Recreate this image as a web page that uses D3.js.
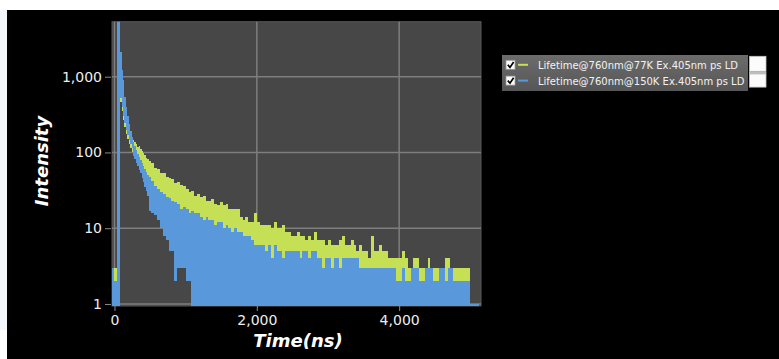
<!DOCTYPE html>
<html>
<head>
<meta charset="utf-8">
<script src="https://cdn.jsdelivr.net/npm/d3@7"></script>
<style>
  html, body { margin: 0; padding: 0; background: #000; overflow: hidden; }
  svg { display: block; }
</style>
</head>
<body>
<svg id="chart" width="779" height="359"></svg>
<script>
// Photon-count decay histograms (TCSPC). Bins are 40 ns wide, except around the
// fast initial decay (80-480 ns) where they are 20 ns wide.
// For each bin the highest and lowest recorded counts are kept.
const binSegments = [
  { startNs: -40, widthNs: 40, count: 3 },
  { startNs: 80, widthNs: 20, count: 20 },
  { startNs: 480, widthNs: 40, count: 116 }
];

const seriesNames = [
  "Lifetime@760nm@77K Ex.405nm ps LD",
  "Lifetime@760nm@150K Ex.405nm ps LD"
];

// 77 K trace: max / min counts per bin
const max77 = [
  3, 3, 900,
  800, 700, 520, 400, 320, 260, 210, 180, 160, 146,
  138, 130, 119, 121, 112, 106, 98, 92, 84, 82,
  77, 72, 62, 60, 53, 54, 47,
  46, 45, 40, 41, 37, 36, 33, 30, 31, 27,
  28, 26, 27, 23, 23, 24, 21, 20, 22, 20,
  21, 18, 18, 18, 18, 14, 13, 14, 12, 12,
  16, 12, 11, 11, 11, 11, 10, 12, 10, 10,
  11, 9, 9, 8, 8, 9, 8, 8, 7, 8,
  7, 9, 7, 7, 7, 6, 7, 6, 6, 6,
  7, 8, 6, 6, 7, 6, 5, 6, 5, 5,
  4, 8, 5, 5, 6, 5, 5, 4, 4, 4,
  4, 4, 5, 4, 3, 3, 4, 4, 3, 3,
  3, 4, 3, 3, 3, 3, 3, 4, 4, 3,
  3, 3, 3, 3, 3, 3, 1, 1, 1
];
const min77 = [
  2, 2, 0,
  463, 352, 268, 217, 175, 151, 129, 115, 101, 99,
  90, 80, 73, 65, 59, 51, 45, 39, 34, 30,
  20, 18, 17, 15, 12, 10, 9,
  7, 6, 5, 4, 4, 4, 3, 3, 2, 2,
  2, 2, 2, 2, 2, 2, 2, 2, 2, 2,
  2, 2, 2, 2, 2, 2, 2, 2, 2, 2,
  2, 2, 2, 2, 2, 2, 2, 2, 2, 2,
  2, 2, 2, 2, 2, 2, 2, 2, 2, 2,
  2, 2, 2, 2, 2, 2, 2, 2, 2, 2,
  2, 2, 2, 2, 2, 2, 2, 2, 2, 2,
  2, 2, 2, 2, 2, 2, 2, 2, 2, 2,
  2, 2, 2, 2, 2, 2, 2, 2, 2, 2,
  2, 2, 2, 2, 2, 2, 2, 2, 2, 2,
  2, 2, 2, 2, 2, 2, 0, 0, 0
];

// 150 K trace: max / min counts per bin
const max150 = [
  3, 2, 9000,
  2118, 1225, 904, 540, 398, 303, 238, 192, 160, 137,
  122, 108, 95, 87, 79, 73, 66, 60, 55, 50,
  47, 42, 36, 33, 30, 28, 26,
  25, 23, 22, 21, 18, 19, 18, 16, 17, 16,
  16, 14, 13, 14, 13, 13, 11, 12, 12, 10,
  11, 10, 9, 10, 9, 9, 8, 8, 8, 7,
  6, 6, 6, 6, 5, 6, 4, 6, 5, 5,
  4, 5, 5, 5, 5, 5, 4, 5, 5, 4,
  5, 5, 4, 4, 3, 4, 4, 3, 4, 4,
  3, 4, 4, 4, 4, 4, 4, 3, 3, 3,
  3, 3, 3, 3, 3, 3, 3, 3, 3, 3,
  2, 2, 3, 2, 2, 3, 3, 3, 2, 2,
  3, 3, 3, 2, 2, 3, 3, 2, 3, 3,
  2, 2, 2, 2, 2, 2, 1, 1, 1
];
const min150 = [
  0, 0, 0,
  519, 394, 300, 243, 196, 169, 144, 129, 113, 90,
  82, 73, 66, 59, 54, 46, 41, 35, 31, 27,
  17, 16, 15, 13, 10, 8, 7,
  5, 5, 2, 3, 3, 3, 2, 2, 0, 0,
  0, 0, 0, 0, 0, 0, 0, 0, 0, 0,
  0, 0, 0, 0, 0, 0, 0, 0, 0, 0,
  0, 0, 0, 0, 0, 0, 0, 0, 0, 0,
  0, 0, 0, 0, 0, 0, 0, 0, 0, 0,
  0, 0, 0, 0, 0, 0, 0, 0, 0, 0,
  0, 0, 0, 0, 0, 0, 0, 0, 0, 0,
  0, 0, 0, 0, 0, 0, 0, 0, 0, 0,
  0, 0, 0, 0, 0, 0, 0, 0, 0, 0,
  0, 0, 0, 0, 0, 0, 0, 0, 0, 0,
  0, 0, 0, 0, 0, 0, 0, 0, 0
];

const xTicks = [0, 2000, 4000];
const yTicks = [1, 10, 100, 1000];

// ---- styling ----
const COLOR_77K = "#c6e055";
const COLOR_150K = "#5a98dc";
const FONT = "'DejaVu Sans', Verdana, sans-serif";

const svg = d3.select("#chart");

// window backdrop
svg.append("rect").attr("width", 779).attr("height", 359).attr("fill", "#000");
svg.append("rect").attr("width", 779).attr("height", 10).attr("fill", "#fff");
svg.append("rect").attr("y", 10).attr("width", 7).attr("height", 320).attr("fill", "#f3f7fb");
svg.append("rect").attr("y", 330).attr("width", 7).attr("height", 29).attr("fill", "#fff");

const plot = { left: 112, right: 481, top: 21.7, bottom: 306 };
const x = d3.scaleLinear().domain([-35, 5150]).range([plot.left, plot.right]);
const y = d3.scaleLog().domain([0.94, 5320]).range([plot.bottom, plot.top]);
const floorCount = y.domain()[0];

// plot background
svg.append("rect")
  .attr("x", plot.left).attr("y", plot.top)
  .attr("width", plot.right - plot.left).attr("height", plot.bottom - plot.top)
  .attr("fill", "#474747").attr("stroke", "#585858").attr("stroke-width", 1);

svg.append("clipPath").attr("id", "plotClip")
  .append("rect")
  .attr("x", plot.left).attr("y", plot.top)
  .attr("width", plot.right - plot.left).attr("height", plot.bottom - plot.top);

// grid
const grid = svg.append("g").attr("stroke", "#7e7e7e").attr("stroke-width", 1.5);
grid.selectAll("line.v").data(xTicks).join("line").attr("class", "v")
  .attr("x1", d => x(d)).attr("x2", d => x(d))
  .attr("y1", plot.top).attr("y2", plot.bottom);
grid.selectAll("line.h").data(yTicks).join("line").attr("class", "h")
  .attr("x1", plot.left).attr("x2", plot.right)
  .attr("y1", d => y(d)).attr("y2", d => y(d));

// bin start times from the segment layout
const binTimes = binSegments.flatMap(s => d3.range(s.count).map(k => s.startNs + k * s.widthNs));
const lastSeg = binSegments[binSegments.length - 1];
const endTime = lastSeg.startNs + lastSeg.count * lastSeg.widthNs;

// histogram bins -> step band
function binPoints(maxArr, minArr) {
  const pts = maxArr.map((hi, i) => ({ t: binTimes[i], hi: hi, lo: minArr[i] }));
  const last = pts[pts.length - 1];
  pts.push({ t: endTime, hi: last.hi, lo: last.lo });
  return pts;
}

const band = d3.area()
  .curve(d3.curveStepAfter)
  .x(d => x(d.t))
  .y0(d => y(Math.max(d.lo, floorCount)))
  .y1(d => y(Math.max(d.hi, floorCount)));

const traces = svg.append("g").attr("clip-path", "url(#plotClip)");
traces.append("path")
  .datum(binPoints(max77, min77))
  .attr("d", band)
  .attr("fill", COLOR_77K)
  .attr("shape-rendering", "crispEdges");
traces.append("path")
  .datum(binPoints(max150, min150))
  .attr("d", band)
  .attr("fill", COLOR_150K)
  .attr("shape-rendering", "crispEdges");

// axes
const yAxis = d3.axisLeft(y).tickValues(yTicks).tickFormat(d3.format(",")).tickSize(6).tickPadding(3);
const gy = svg.append("g").attr("transform", "translate(111,0)").call(yAxis);
gy.select(".domain").remove();

const xAxis = d3.axisBottom(x).tickValues(xTicks).tickFormat(d3.format(",")).tickSize(5).tickPadding(4.5);
const gx = svg.append("g").attr("transform", `translate(0,${plot.bottom})`).call(xAxis);
gx.select(".domain").remove();

[gx, gy].forEach(g => {
  g.attr("font-family", FONT).attr("font-size", 14);
  g.selectAll(".tick line").attr("stroke", "#8c8c8c");
  g.selectAll(".tick text").attr("fill", "#eeeeee");
});

// axis titles
svg.append("text")
  .attr("x", 298).attr("y", 347)
  .attr("text-anchor", "middle")
  .attr("fill", "#fff")
  .style("font", `italic bold 18px ${FONT}`)
  .text("Time(ns)");

svg.append("text")
  .attr("transform", "translate(48,161) rotate(-90)")
  .attr("text-anchor", "middle")
  .attr("fill", "#fff")
  .style("font", `italic bold 18px ${FONT}`)
  .text("Intensity");

// legend
const defs = svg.append("defs");
const lg = defs.append("linearGradient").attr("id", "legendBg").attr("x1", 0).attr("y1", 0).attr("x2", 0).attr("y2", 1);
lg.append("stop").attr("offset", "0%").attr("stop-color", "#6c6c6c");
lg.append("stop").attr("offset", "100%").attr("stop-color", "#565656");

const legend = svg.append("g");
legend.append("rect")
  .attr("x", 502).attr("y", 55).attr("width", 246).attr("height", 36)
  .attr("fill", "url(#legendBg)");

const legendRows = [
  { name: seriesNames[0], color: COLOR_77K, cy: 64.8 },
  { name: seriesNames[1], color: COLOR_150K, cy: 80.6 }
];
legendRows.forEach(r => {
  const row = legend.append("g");
  row.append("rect")
    .attr("x", 506).attr("y", r.cy - 4.5).attr("width", 9).attr("height", 9)
    .attr("fill", "#fff").attr("stroke", "#9a9a9a").attr("stroke-width", 0.8);
  row.append("path")
    .attr("d", `M507.8,${r.cy} L510,${r.cy + 2.6} L513.6,${r.cy - 2.8}`)
    .attr("fill", "none").attr("stroke", "#000").attr("stroke-width", 1.7);
  row.append("line")
    .attr("x1", 518).attr("x2", 528).attr("y1", r.cy).attr("y2", r.cy)
    .attr("stroke", r.color).attr("stroke-width", 2);
  row.append("text")
    .attr("x", 538).attr("y", r.cy + 4)
    .attr("fill", "#f2f2f2")
    .style("font", `10px ${FONT}`)
    .text(r.name);
  row.append("rect")
    .attr("x", 749.5).attr("y", r.cy - 8.5).attr("width", 16.5).attr("height", 15)
    .attr("fill", "#fbfbfb").attr("stroke", "#c4c4c4").attr("stroke-width", 0.8);
});
legend.append("rect")
  .attr("x", 749.5).attr("y", 71.4).attr("width", 16.5).attr("height", 3)
  .attr("fill", "#bdbdbd");
</script>
</body>
</html>
